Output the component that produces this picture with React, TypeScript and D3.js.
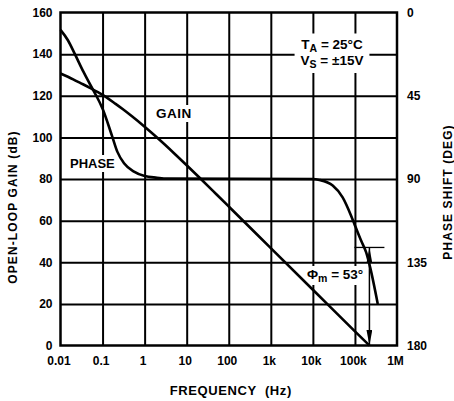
import { useEffect, useRef } from 'react';
import * as d3 from 'd3';

// axis ticks
const FREQ_TICKS = [0.01, 0.1, 1, 10, 100, 1e3, 1e4, 1e5, 1e6];
const FREQ_LABELS = ['0.01', '0.1', '1', '10', '100', '1k', '10k', '100k', '1M'];
const GAIN_TICKS = [0, 20, 40, 60, 80, 100, 120, 140, 160];
const PHASE_TICKS = [0, 45, 90, 135, 180];

// open-loop gain (dB)
const GAIN_FREQ = [0.01, 0.02, 0.03, 0.05, 0.1, 0.2, 0.3, 0.5, 1, 2, 5, 10, 20, 50, 100, 1e3, 1e4, 1e5, 2.21e5];
const GAIN_DB = [130.7, 127.9, 126.1, 123.8, 120.4, 116.2, 113.6, 110.1, 105.1, 99.8, 92.4, 86.6, 80.7, 72.8, 66.8, 46.8, 26.8, 6.8, 0];

// phase shift (deg)
const PHASE_FREQ = [0.01, 0.015, 0.022, 0.035, 0.06, 0.071, 0.1, 0.17, 0.224, 0.324, 0.559, 1, 1.97, 3.4, 1e4, 1.43e4, 2.96e4, 5.1e4, 8.1e4, 9.7e4, 1.4e5, 1.85e5, 2.3e5, 3.49e5];
const PHASE_DEG = [9.4, 15, 22.5, 32, 42, 45, 52, 67.1, 75.2, 81.5, 86, 88.4, 89.3, 89.8, 90, 90.5, 93.5, 99.9, 109.8, 114.3, 123.3, 129.7, 137.8, 157.6];

const PHASE_MARGIN = 53;

const FONT = "'Liberation Sans', Arial, Helvetica, sans-serif";

export default function App() {
    const svgRef = useRef<SVGSVGElement>(null);

    useEffect(() => {
        if (!svgRef.current) return;
        document.body.style.margin = '0';

        const svg = d3.select(svgRef.current);
        svg.selectAll('*').remove();

        const left = 60.5;
        const right = 397;
        const top = 12.5;
        const bottom = 345.5;

        const x = d3.scaleLog().domain([0.01, 1e6]).range([left, right]);
        const yGain = d3.scaleLinear().domain([0, 160]).range([bottom, top]);
        const yPhase = d3.scaleLinear().domain([0, 180]).range([top, bottom]);

        svg.append('defs')
            .append('marker')
            .attr('id', 'arrow')
            .attr('viewBox', '0 0 16 6')
            .attr('refX', 16)
            .attr('refY', 3)
            .attr('markerWidth', 16)
            .attr('markerHeight', 6)
            .attr('markerUnits', 'userSpaceOnUse')
            .attr('orient', 'auto-start-reverse')
            .append('path')
            .attr('d', 'M0,0 L16,3 L0,6 Z')
            .attr('fill', '#000');

        const gridLayer = svg.append('g');
        const bgLayer = svg.append('g');
        const curveLayer = svg.append('g');
        const textLayer = svg.append('g').attr('font-family', FONT).attr('font-weight', 'bold').attr('fill', '#000');

        // Grid lines
        gridLayer.append('g')
            .attr('transform', `translate(0,${bottom})`)
            .call(d3.axisBottom(x).tickValues(FREQ_TICKS.slice(1, -1)).tickSize(-(bottom - top)).tickFormat(() => ''))
            .call((g) => g.select('.domain').remove())
            .selectAll('line')
            .attr('stroke', '#000')
            .attr('stroke-width', 2);

        gridLayer.append('g')
            .attr('transform', `translate(${left},0)`)
            .call(d3.axisLeft(yGain).tickValues(GAIN_TICKS.slice(1, -1)).tickSize(-(right - left)).tickFormat(() => ''))
            .call((g) => g.select('.domain').remove())
            .selectAll('line')
            .attr('stroke', '#000')
            .attr('stroke-width', 2);

        // Tick labels
        const styleTicks = (g: any) => {
            g.select('.domain').remove();
            g.selectAll('text')
                .attr('font-family', FONT)
                .attr('font-size', 12)
                .attr('font-weight', 'bold')
                .attr('fill', '#000');
        };

        textLayer.append('g')
            .attr('transform', `translate(${left - 8},0)`)
            .call(d3.axisLeft(yGain).tickValues(GAIN_TICKS).tickSize(0).tickPadding(0))
            .call(styleTicks);

        textLayer.append('g')
            .attr('transform', `translate(${right + 10},0)`)
            .call(d3.axisRight(yPhase).tickValues(PHASE_TICKS).tickSize(0).tickPadding(0))
            .call(styleTicks);

        textLayer.append('g')
            .attr('transform', `translate(-2,${bottom})`)
            .call(d3.axisBottom(x).tickValues(FREQ_TICKS).tickSize(0).tickPadding(10.5).tickFormat((_d, i) => FREQ_LABELS[i]))
            .call(styleTicks);

        // Axis titles
        textLayer.append('text')
            .attr('transform', `translate(17,207) rotate(-90)`)
            .attr('text-anchor', 'middle')
            .attr('font-size', 12)
            .attr('letter-spacing', 1.1)
            .text('OPEN-LOOP GAIN (dB)');

        textLayer.append('text')
            .attr('transform', `translate(452,192) rotate(-90)`)
            .attr('text-anchor', 'middle')
            .attr('font-size', 12)
            .attr('letter-spacing', 1.1)
            .text('PHASE SHIFT (DEG)');

        textLayer.append('text')
            .attr('x', (left + right) / 2 + 2)
            .attr('y', 395)
            .attr('text-anchor', 'middle')
            .attr('font-size', 13)
            .attr('letter-spacing', 0.6)
            .style('white-space', 'pre')
            .text('FREQUENCY  (Hz)');

        // Labels with white backgrounds
        const withBg = (node: SVGTextElement, px: number, py: number) => {
            const b = node.getBBox();
            bgLayer.append('rect')
                .attr('x', b.x - px)
                .attr('y', b.y - py)
                .attr('width', b.width + 2 * px)
                .attr('height', b.height + 2 * py)
                .attr('fill', '#fff');
        };

        const gainLabel = textLayer.append('text')
            .attr('x', 156)
            .attr('y', 118)
            .attr('font-size', 13.5)
            .attr('letter-spacing', 0.5)
            .text('GAIN');
        withBg(gainLabel.node()!, 3, 1);

        const phaseLabel = textLayer.append('text')
            .attr('x', 70)
            .attr('y', 168)
            .attr('font-size', 13)
            .text('PHASE');
        withBg(phaseLabel.node()!, 3, 1);

        const cond = textLayer.append('text').attr('font-size', 13.5).attr('text-anchor', 'middle');
        const l1 = cond.append('tspan').attr('x', 332).attr('y', 48.5);
        l1.append('tspan').text('T');
        l1.append('tspan').attr('font-size', 10.5).attr('dy', 3).text('A');
        l1.append('tspan').attr('dy', -3).text(' = 25°C');
        const l2 = cond.append('tspan').attr('x', 332).attr('y', 65);
        l2.append('tspan').text('V');
        l2.append('tspan').attr('font-size', 10.5).attr('dy', 3).text('S');
        l2.append('tspan').attr('dy', -3).text(' = ±15V');
        withBg(cond.node()!, 6, 3);

        const pm = textLayer.append('text').attr('x', 307).attr('y', 279).attr('font-size', 13.5);
        pm.append('tspan').text('Φ');
        pm.append('tspan').attr('font-size', 10.5).attr('dy', 3).text('m');
        pm.append('tspan').attr('dy', -3).text(` = ${PHASE_MARGIN}°`);
        withBg(pm.node()!, 2, 1);

        // Curves
        const line = d3.line<[number, number]>().curve(d3.curveMonotoneX);

        const gainPts = GAIN_FREQ.map((f, i) => [x(f), yGain(GAIN_DB[i])] as [number, number]);
        const phasePts = PHASE_FREQ.map((f, i) => [x(f), yPhase(PHASE_DEG[i])] as [number, number]);

        curveLayer.append('path')
            .attr('d', line(gainPts))
            .attr('fill', 'none')
            .attr('stroke', '#000')
            .attr('stroke-width', 2.6);

        curveLayer.append('path')
            .attr('d', line(phasePts))
            .attr('fill', 'none')
            .attr('stroke', '#000')
            .attr('stroke-width', 2.6);

        // Phase margin marker at unity-gain crossover
        const fc = GAIN_FREQ[GAIN_FREQ.length - 1];
        const xc = x(fc);
        const yc = yPhase(180 - PHASE_MARGIN);

        curveLayer.append('line')
            .attr('x1', xc - 15)
            .attr('x2', xc + 15)
            .attr('y1', yc)
            .attr('y2', yc)
            .attr('stroke', '#000')
            .attr('stroke-width', 1.3);

        curveLayer.append('line')
            .attr('x1', xc)
            .attr('x2', xc)
            .attr('y1', yc)
            .attr('y2', yPhase(180))
            .attr('stroke', '#000')
            .attr('stroke-width', 1.5)
            .attr('marker-start', 'url(#arrow)')
            .attr('marker-end', 'url(#arrow)');

        // Border
        svg.append('rect')
            .attr('x', left)
            .attr('y', top)
            .attr('width', right - left)
            .attr('height', bottom - top)
            .attr('fill', 'none')
            .attr('stroke', '#000')
            .attr('stroke-width', 2.5);
    }, []);

    return (
        <svg ref={svgRef} width={454} height={401} style={{ display: 'block', background: '#fff' }}></svg>
    );
}
